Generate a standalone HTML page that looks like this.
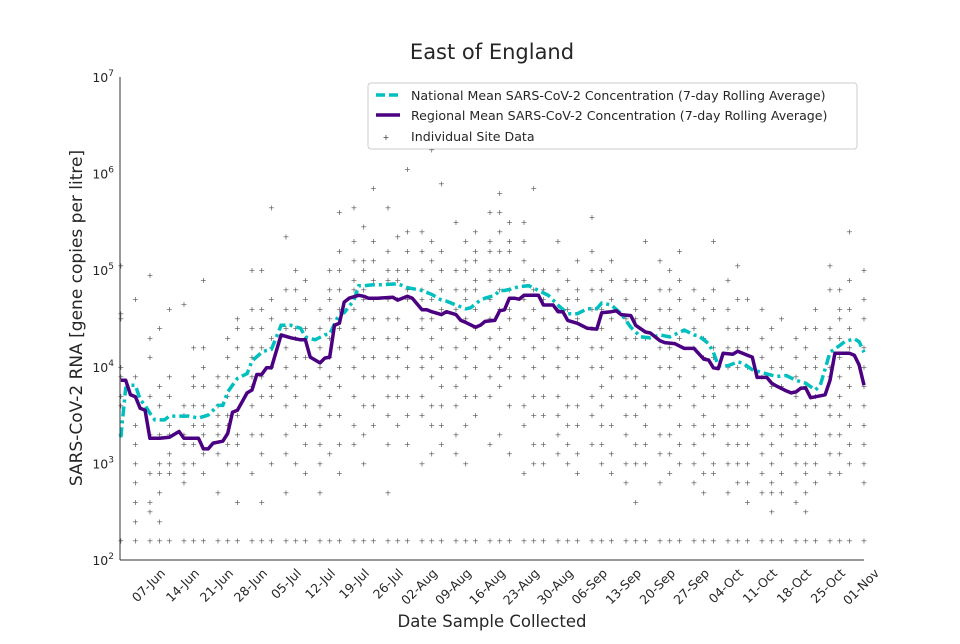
<!DOCTYPE html>
<html><head><meta charset="utf-8">
<style>
body{margin:0;background:#fff;font-family:"DejaVu Sans","Liberation Sans",sans-serif;}
svg text{font-family:"DejaVu Sans","Liberation Sans",sans-serif;fill:#262626;}
</style></head>
<body>
<svg id="chart" width="960" height="640" xmlns="http://www.w3.org/2000/svg">
<text x="492" y="59" text-anchor="middle" font-size="21">East of England</text>
<text transform="translate(82,318) rotate(-90)" text-anchor="middle" font-size="17">SARS-CoV-2 RNA [gene copies per litre]</text>
<text x="492" y="627" text-anchor="middle" font-size="16.5">Date Sample Collected</text>
<g id="scatter"></g>
<g id="lines"></g>
<g id="axes"></g>
<g>
<rect x="368" y="83" width="489" height="66" fill="#fff" fill-opacity="0.85" stroke="#ccc" rx="3"/>
<line x1="376" y1="95" x2="400" y2="95" stroke="#00bfbf" stroke-width="3.5" stroke-dasharray="9,4"/>
<text x="411" y="100" font-size="12.6">National Mean SARS-CoV-2 Concentration (7-day Rolling Average)</text>
<line x1="376" y1="115" x2="400" y2="115" stroke="#4b0082" stroke-width="3.5"/>
<text x="411" y="120" font-size="12.6">Regional Mean SARS-CoV-2 Concentration (7-day Rolling Average)</text>
<text x="386" y="140" font-size="8" fill="#555" text-anchor="middle">+</text>
<text x="411" y="141" font-size="12.6">Individual Site Data</text>
</g>
</svg>
<script>
const tickLabels=["07-Jun","14-Jun","21-Jun","28-Jun","05-Jul","12-Jul","19-Jul","26-Jul","02-Aug","09-Aug","16-Aug","23-Aug","30-Aug","06-Sep","13-Sep","20-Sep","27-Sep","04-Oct","11-Oct","18-Oct","25-Oct","01-Nov"];
const tickDays=[6,13,20,27,34,41,48,55,62,69,76,83,90,97,104,111,118,125,132,139,146,153];
const yTickExp=[2,3,4,5,6,7];
// day index since 01-Jun, log10 concentration
const regDays=[0,1,2,3,4,5,6,8,10,12,13,14,16,17,18,19,21,22,23,24,26,27,28,29,30,31,33,35,37,38,39,41,42,43,44,45,46,47,49,50,51,53,56,57,59,60,62,63,64,66,67,69,70,71,73,74,75,77,78,79,80,81,82,83,85,86,87,89,90,91,92,94,96,98,99,101,102,103,105,106,108,109,111,112,114,116,118,120,121,122,123,124,126,127,129,130,131,133,134,135,137,138,139,140,141,142,144,145,146,147,148,150,151,152,153];
const regLog=[3.86,3.86,3.71,3.69,3.57,3.55,3.26,3.26,3.27,3.33,3.26,3.26,3.26,3.15,3.15,3.21,3.23,3.31,3.53,3.55,3.73,3.76,3.92,3.92,3.99,3.99,4.33,4.30,4.28,4.28,4.10,4.04,4.09,4.10,4.43,4.45,4.67,4.71,4.74,4.73,4.71,4.71,4.72,4.69,4.73,4.71,4.59,4.59,4.57,4.54,4.57,4.54,4.48,4.46,4.41,4.43,4.47,4.48,4.58,4.59,4.71,4.71,4.70,4.74,4.74,4.74,4.64,4.64,4.57,4.57,4.48,4.45,4.40,4.39,4.56,4.57,4.58,4.54,4.53,4.43,4.36,4.35,4.27,4.25,4.24,4.19,4.19,4.08,4.07,3.99,3.98,4.14,4.13,4.16,4.12,4.10,3.89,3.89,3.83,3.80,3.75,3.73,3.74,3.78,3.78,3.68,3.70,3.71,3.86,4.14,4.14,4.14,4.12,4.02,3.81];
const natDays=[0,1,2,3,4,5,6,7,9,10,12,14,16,18,20,21,22,24,26,27,29,30,31,33,35,37,38,40,42,43,45,46,48,49,50,52,54,57,59,62,64,66,67,69,71,72,74,75,77,78,79,80,82,84,86,88,90,92,94,96,98,99,101,103,105,107,109,111,113,116,118,119,121,122,123,125,127,128,130,132,135,137,139,141,143,144,146,148,149,151,152,153];
const natLog=[3.27,3.78,3.81,3.81,3.66,3.60,3.52,3.45,3.45,3.49,3.49,3.49,3.47,3.50,3.60,3.60,3.74,3.88,3.93,4.06,4.15,4.17,4.18,4.43,4.43,4.40,4.31,4.28,4.33,4.34,4.55,4.56,4.69,4.84,4.84,4.85,4.85,4.86,4.82,4.79,4.75,4.69,4.68,4.64,4.60,4.61,4.69,4.71,4.74,4.79,4.79,4.80,4.83,4.84,4.79,4.74,4.64,4.55,4.55,4.60,4.60,4.66,4.64,4.55,4.41,4.31,4.30,4.33,4.31,4.38,4.33,4.32,4.24,4.15,4.01,4.01,4.05,4.04,3.97,3.94,3.90,3.91,3.86,3.83,3.76,3.81,4.15,4.22,4.26,4.29,4.26,4.15];
const siteDays=[0,3,6,8,10,13,15,17,20,22,24,27,29,31,34,36,38,41,43,45,48,50,52,55,57,59,62,64,66,69,71,73,76,78,80,83,85,87,90,92,94,97,99,101,104,106,108,111,113,115,118,120,122,125,127,129,132,134,136,139,141,143,146,148,150,153];
const siteLogs=[
"5.05 4.55 4.0 3.6 3.3 2.2","4.7 3.4 3.0 2.8 2.2","4.95 4.3 3.7 2.6 2.5 2.2","4.4 3.6 3.0 2.7 2.4 2.2","4.6 3.9 3.3 3.0 2.9 2.2","4.65 3.5 3.2 2.9 2.8 2.2","4.2 3.8 3.4 3.0 2.2","4.9 4.0 3.6 3.3 2.9 2.2","3.8 3.5 3.3 3.1 2.7 2.2","4.1 3.7 3.4 3.0 2.2","4.5 4.2 3.7 3.3 3.0 2.6 2.2","5.0 4.6 4.1 3.8 3.3 2.9 2.2","5.0 4.4 3.9 3.5 3.1 2.6 2.2","5.65 4.7 4.2 3.8 3.5 3.0 2.2","5.35 4.8 4.4 4.0 3.6 3.1 2.7 2.2","5.0 4.6 4.3 3.9 3.4 3.0 2.2","4.9 4.4 4.1 3.6 3.2 2.9 2.2","4.6 4.2 3.8 3.4 3.0 2.7 2.2","5.0 4.7 4.3 3.9 3.5 3.1 2.2","5.6 5.2 4.8 4.4 4.0 3.5 2.9 2.2","5.65 5.3 4.9 4.6 4.2 3.7 3.2 2.2","5.45 5.1 4.8 4.5 4.1 3.6 3.0 2.2","5.85 5.3 4.9 4.5 4.1 3.6 2.2","5.65 5.2 4.9 4.5 4.1 3.7 3.2 2.7 2.2","5.35 5.0 4.7 4.3 3.9 3.4 2.2","6.05 5.4 5.0 4.7 4.2 3.7 3.2 2.2","5.4 5.0 4.7 4.4 4.0 3.5 3.0 2.2","6.25 5.3 4.9 4.5 4.1 3.6 3.1 2.2","5.9 5.2 4.8 4.4 4.0 3.6 3.2 2.2","5.5 5.0 4.6 4.2 3.8 3.3 2.2","5.3 5.0 4.7 4.3 3.9 3.4 3.0 2.2","5.4 5.1 4.8 4.4 4.0 3.5 2.2","5.6 5.2 4.9 4.5 4.1 3.7 3.2 2.2","5.8 5.4 5.0 4.6 4.2 3.8 3.3 2.2","5.5 5.2 4.8 4.5 4.1 3.6 3.1 2.2","5.5 5.1 4.7 4.3 3.9 3.4 2.9 2.2","5.85 5.0 4.6 4.2 3.7 3.2 2.2","5.0 4.7 4.3 3.9 3.5 3.0 2.2","5.3 4.8 4.4 4.0 3.5 3.1 2.2","4.9 4.6 4.3 3.9 3.4 3.0 2.2","5.1 4.7 4.3 3.9 3.4 2.9 2.2","5.55 5.0 4.6 4.2 3.7 3.2 2.2","5.0 4.6 4.2 3.8 3.4 3.0 2.2","5.1 4.7 4.3 3.9 3.4 2.9 2.2","4.9 4.5 4.1 3.7 3.3 2.8 2.2","4.9 4.5 4.1 3.7 3.2 2.6 2.2","5.3 4.7 4.3 3.8 3.4 3.0 2.2","5.1 4.6 4.2 3.8 3.3 2.8 2.2","5.0 4.6 4.2 3.8 3.3 2.9 2.2","5.2 4.7 4.3 3.9 3.4 3.0 2.2","4.8 4.4 4.0 3.6 3.2 2.8 2.2","4.7 4.3 3.9 3.5 3.1 2.7 2.2","5.3 4.8 4.2 3.8 3.4 3.0 2.2","4.9 4.4 4.0 3.6 3.2 2.7 2.2","5.05 4.4 4.0 3.6 3.2 2.8 2.2","4.7 4.2 3.8 3.4 3.0 2.6 2.2","4.6 4.1 3.7 3.3 2.9 2.2","4.4 4.0 3.6 3.2 2.8 2.5 2.2","4.5 4.0 3.6 3.3 2.9 2.2","4.3 3.9 3.5 3.2 2.8 2.2","4.4 4.0 3.6 3.2 2.9 2.5 2.2","4.6 4.1 3.7 3.3 3.0 2.2","5.05 4.4 4.0 3.6 3.3 2.9 2.2","4.8 4.5 4.1 3.7 3.3 2.9 2.2","5.4 4.6 4.2 3.8 3.4 3.0 2.2","5.0 4.5 4.0 3.6 3.2 2.8 2.2"];
// extra site readings on the same sampling days
const siteLogsB=[
"4.5 3.9 3.7","3.9 3.2 2.6 2.4","4.1 3.3 2.9","3.8 3.3 2.9","3.7 3.4 3.1","3.6 3.3 3.0","3.9 3.6 3.2","4.2 3.8 3.4 3.1","3.9 3.6 3.4","4.3 3.9 3.5 3.2","4.4 4.0 3.5 3.2","4.4 4.2 3.9 3.6","4.6 4.2 3.7 3.3","4.5 4.3 4.0 3.7","4.6 4.2 3.8 3.3","4.8 4.4 4.1 3.7","4.7 4.3 3.9 3.4","4.4 4.0 3.6 3.2","4.8 4.5 4.1 3.7","5.0 4.6 4.2 3.8 3.2","5.1 4.8 4.4 4.0 3.4","5.0 4.7 4.3 3.9 3.3","5.1 4.7 4.3 3.9 3.4","5.0 4.7 4.3 3.9 3.5","4.9 4.5 4.1 3.7","5.2 4.8 4.4 4.0 3.5","5.2 4.8 4.5 4.1 3.7","5.1 4.7 4.3 3.9 3.4","5.0 4.6 4.2 3.8 3.4","4.8 4.4 4.0 3.6 3.1","5.1 4.8 4.5 4.1 3.7","5.2 4.9 4.6 4.2 3.7","5.3 5.0 4.7 4.3 3.9","5.6 5.2 4.8 4.4 4.0","5.3 5.0 4.6 4.3 3.9","5.3 4.9 4.5 4.1 3.6","4.8 4.4 4.0 3.5 3.0","4.8 4.5 4.1 3.7 3.2","5.0 4.6 4.2 3.7 3.3","4.7 4.4 4.1 3.6 3.2","4.8 4.5 4.1 3.6 3.1","5.2 4.8 4.4 4.0 3.5","4.8 4.4 4.0 3.6 3.2","4.9 4.5 4.1 3.7 3.1","4.7 4.3 3.9 3.5 3.0","4.6 4.3 3.9 3.5 3.0","4.9 4.5 4.1 3.6 3.2","4.8 4.4 4.0 3.6 3.1","4.8 4.4 4.0 3.6 3.1","4.9 4.5 4.1 3.7 3.2","4.6 4.2 3.8 3.4 3.0","4.5 4.1 3.7 3.3 2.9","4.6 4.1 3.7 3.3 2.9","4.6 4.2 3.8 3.4 3.0","4.7 4.2 3.8 3.4 3.0","4.4 4.0 3.6 3.2 2.8","4.3 3.9 3.5 3.1 2.7","4.2 3.8 3.4 3.0 2.7","4.2 3.8 3.4 3.1 2.7","4.1 3.7 3.4 3.0 2.6","4.2 3.8 3.4 3.0 2.7","4.4 4.0 3.6 3.2 2.8","4.8 4.3 3.9 3.5 3.1","4.6 4.3 3.9 3.5 3.1","4.9 4.4 4.0 3.6 3.2","4.7 4.2 3.8 3.4 3.0"];
const L=120,R=864,T=77,B=560;
const xs=d=>L+0.8+d*(R-L-0.8)/153;
const ys=lg=>B-(lg-2)*(B-T)/5;
const NS="http://www.w3.org/2000/svg";
function mk(tag,attrs,parent){const e=document.createElementNS(NS,tag);for(const k in attrs)e.setAttribute(k,attrs[k]);parent.appendChild(e);return e;}
const sc=document.getElementById('scatter');
function drawSites(arr,dx){siteDays.forEach((d,i)=>{arr[i].split(' ').map(Number).forEach(v=>{
const t=mk('text',{x:xs(d)+dx,y:ys(v)+3,'text-anchor':'middle','font-size':'8',fill:'#555'},sc);
t.style.fill='#555';t.textContent='+';


});});}
drawSites(siteLogs,0);
drawSites(siteLogsB,0);
const ln=document.getElementById('lines');
const natPath=mk('path',{d:natDays.map((d,i)=>(i?'L':'M')+xs(d).toFixed(1)+','+ys(natLog[i]).toFixed(1)).join(''),fill:'none',stroke:'#00bfbf','stroke-width':3.5,'stroke-dasharray':'10,4,3,4'},ln);


const regPath=mk('path',{d:regDays.map((d,i)=>(i?'L':'M')+xs(d).toFixed(1)+','+ys(regLog[i]).toFixed(1)).join(''),fill:'none',stroke:'#4b0082','stroke-width':3.5,'stroke-linejoin':'round'},ln);


const ax=document.getElementById('axes');
mk('line',{x1:L,y1:T,x2:L,y2:B,stroke:'#333','stroke-width':1},ax);
mk('line',{x1:L,y1:B,x2:R,y2:B,stroke:'#333','stroke-width':1},ax);
yTickExp.forEach(e=>{const y=ys(e);
const t=mk('text',{x:L-6,y:y+5,'text-anchor':'end','font-size':'12.5'},ax);
t.innerHTML='10<tspan dy="-6" font-size="9">'+e+'</tspan>';


});
tickDays.forEach((d,i)=>{const x=xs(d);
const t=mk('text',{transform:'translate('+(x+16)+','+(B+14)+') rotate(-45)','text-anchor':'end','font-size':'12.5'},ax);
t.textContent=tickLabels[i];


});
</script>
</body></html>
